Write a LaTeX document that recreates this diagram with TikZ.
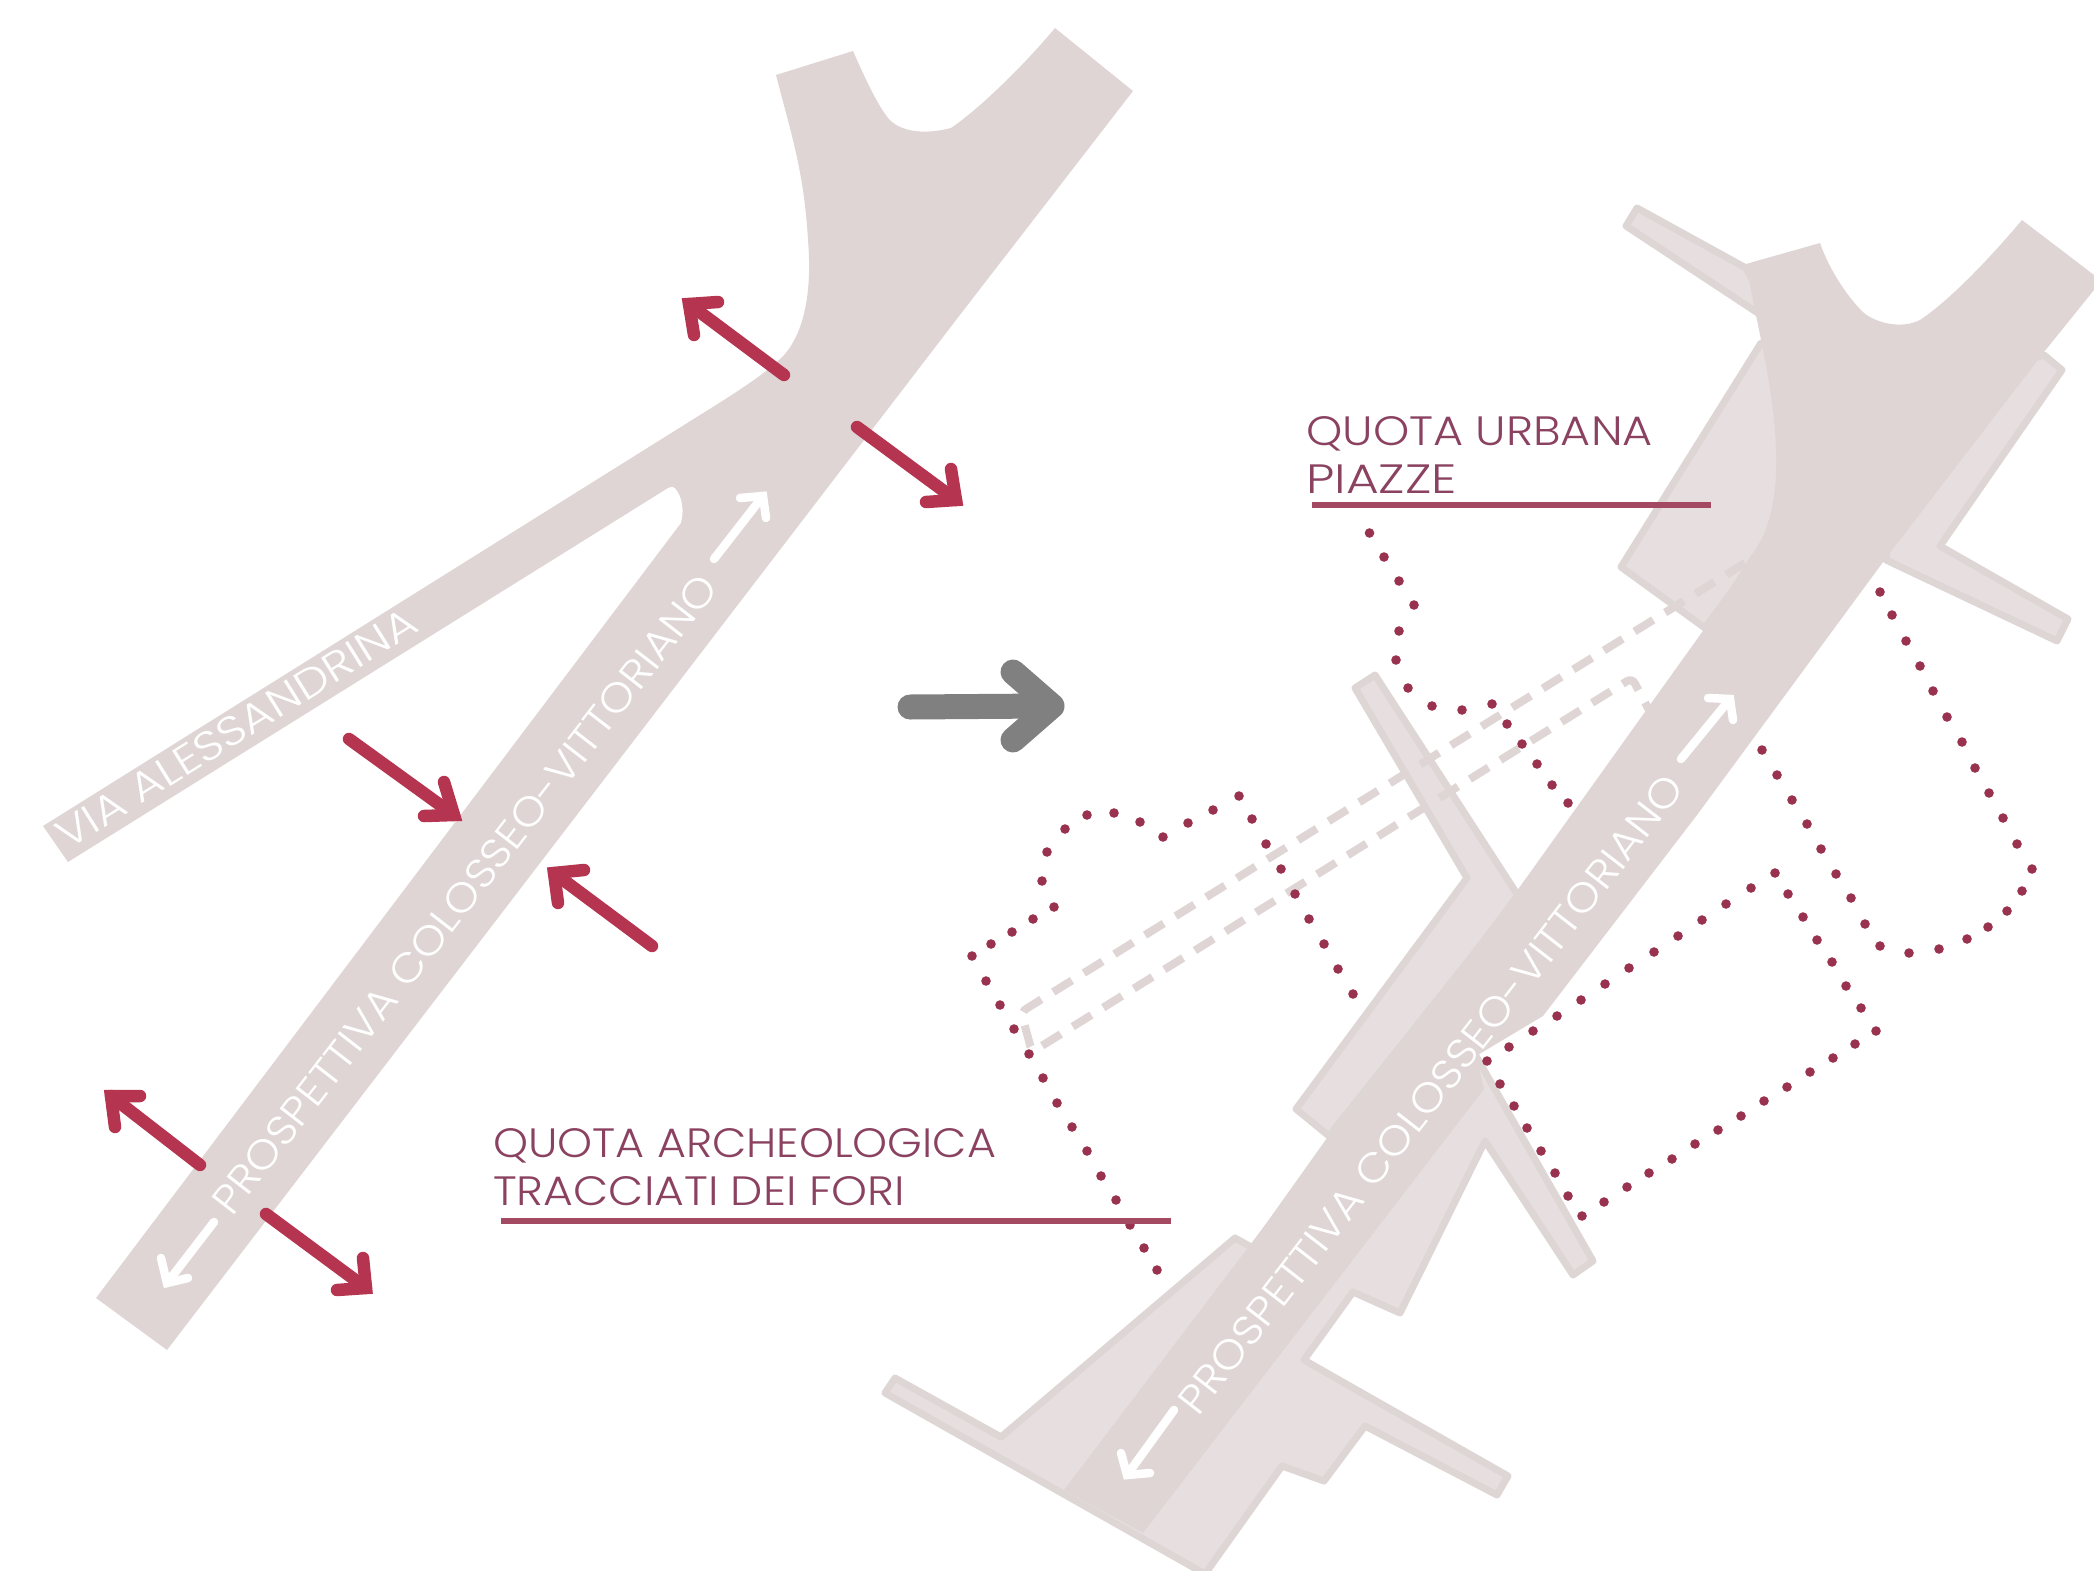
\documentclass[tikz,border=0pt]{standalone}
\usepackage{fontspec}
\newfontfamily\lbl[FakeStretch=1.085]{Poppins Light}
\newfontfamily\lblroad[FakeStretch=1.09]{Poppins Light}
\newfontfamily\lblvia[FakeStretch=1.165]{Poppins Light}
\definecolor{road}{HTML}{DFD5D5}
\definecolor{plaza}{HTML}{E7DFDF}
\definecolor{plazaedge}{HTML}{DED5D5}
\definecolor{redarrow}{HTML}{B5344F}
\definecolor{dotred}{HTML}{99324F}
\definecolor{title}{HTML}{8A4260}
\definecolor{rulered}{HTML}{A34A62}
\definecolor{greyarrow}{HTML}{808080}
\tikzset{
  roadfill/.style={fill=road,draw=none},
  plazafill/.style={fill=plaza,draw=plazaedge,line width=7pt,line join=round},
  redarr/.style={draw=redarrow,line width=12.5pt,line cap=round,line join=miter},
  whitearr/.style={draw=white,line width=8.5pt,line cap=round,line join=miter},
  greyarr/.style={draw=greyarrow,line width=25pt,line cap=round,line join=round},
  dashline/.style={draw=road,line width=8pt,dash pattern=on 22pt off 14pt},
  rulerline/.style={draw=rulered,line width=6pt},
  titletext/.style={text=title,anchor=base west,inner sep=0pt,font=\lbl\fontsize{41}{41}\selectfont},
  roadtext/.style={text=white,anchor=base west,inner sep=0pt,font=\lblroad\fontsize{41}{41}\selectfont},
  viatext/.style={text=white,anchor=base west,inner sep=0pt,font=\lblvia\fontsize{41}{41}\selectfont}
}
\newcommand{\arrowshape}[5]{%
  \draw[#1] #2 -- #3;
  \draw[#1] #4 -- #3 -- #5;
}
\begin{document}
\begin{tikzpicture}[x=1pt,y=-1pt]
\clip (0,0) rectangle (2094,1571);
% left road
\path[roadfill] (776,75) -- (853,51) .. controls (868,85) and (878,105) .. (888,118)
  .. controls (898,130) and (920,136) .. (951,128)
  .. controls (975,112) and (1020,70) .. (1055,28) -- (1133,91) -- (956,320) -- (167,1350) -- (96,1298)
  -- (681,523) .. controls (684,512) and (683,497) .. (675,488) .. controls (672,486) and (670,487) .. (668,488)
  -- (68,862) -- (43,826) -- (724,400) .. controls (750,383) and (770,370) .. (785,354)
  .. controls (805,330) and (812,290) .. (808,240) .. controls (804,170) and (790,130) .. (776,75) -- cycle;
% right: plazas
\path[plazafill] (1637,208) -- (1626,226) -- (1776,325) -- (1746,268) -- cycle;
\path[plazafill] (1761,343) -- (1621,567) -- (1705,628) -- (1800,500) -- (1800,343) -- cycle;
\path[plazafill] (2044,355) -- (2062,370) -- (1940,546) -- (2068,619) -- (2057,641) -- (1886,560) -- (1900,400) -- cycle;
\path[plazafill] (1375,675) -- (1355,688) -- (1467,878) -- (1296,1109) -- (1329,1136) -- (1519,897) -- cycle;
\path[plazafill] (885,1393) -- (895,1378) -- (1001,1437) -- (1235,1238) -- (1253,1248) -- (1332,1137) -- (1476,1056) -- (1593,1261) -- (1573,1275) -- (1485,1141) -- (1400,1313) -- (1353,1292) -- (1304,1360) -- (1508,1476) -- (1497,1495) -- (1365,1426) -- (1324,1481) -- (1282,1466) -- (1205,1574) -- cycle;
% right: main road
\path[roadfill] (1746,264) -- (1820,243) .. controls (1830,272) and (1850,300) .. (1864,313)
  .. controls (1875,322) and (1900,330) .. (1920,320)
  .. controls (1950,300) and (1990,258) .. (2022,220) -- (2094,275) -- (2094,290) -- (2044,352) -- (1886,558)
  -- (1697,815) -- (1543,1016) -- (1476,1056) -- (1484,1089) -- (1143,1533) -- (1064,1490) -- (1332,1137)
  -- (1519,888) -- (1705,628) -- (1750,557)
  .. controls (1768,535) and (1778,500) .. (1776,450) .. controls (1774,390) and (1760,340) .. (1746,264) -- cycle;
% dashed lines
\draw[dashline,rounded corners=6pt] (1745,563) -- (1021,1012) -- (1032,1052) -- (1632,678) -- (1650,712);
% dots
\foreach \p in {(1369.5,533),(1384,557),(1399,581),(1414,605),(1399,631),(1396,660),(1408,688),(1432,706),(1462,710),(1492,704),(1507,724),(1522,744),(1537,764),(1552,785),(1568,803),
 (1880,592),(1892,615),(1906,641),(1920,666),(1933,691),(1947,717),(1962,742),(1975,768),(1989,793),(2003,818),(2017,844),(2032,869),(2022,891),(2007,911),(1988,927),(1967,939),(1939,949),(1909,953),(1880,946),(1865,924),(1851,898),(1836,874),(1821,849),(1807,824),(1792,800),(1777,775),(1762,750),
 (1775,873),(1751,888),(1726,904),(1702,920),(1678,936),(1654,952),(1629,968),(1605,984),(1581,1000),(1557,1016),(1533,1031),(1509,1047),(1487,1061),(1500,1084),(1514,1106),(1527,1128),(1541,1151),(1555,1173),(1568,1196),(1582,1216),(1604,1202),(1627,1187),(1649,1173),(1672,1159),(1695,1144),(1718,1130),(1741,1116),(1764,1101),(1787,1087),(1810,1072),(1833,1058),(1855,1044),(1876,1031),(1861,1008),(1846,986),(1832,962),(1817,940),(1803,917),(1788,894),
 (1353,994),(1338,969),(1324,944),(1309,919),(1295,894),(1281,869),(1266,844),(1252,819),(1239,796),(1213,810),(1188,823),(1163,837),(1140,822),(1114,813),(1087,815),(1065,829),(1047,852),(1042,881),(1054,907),(1033,919),(1012,932),(991,944),(972,956),(986,981),(1000,1005),(1014,1029),(1029,1054),(1043,1078),(1057,1103),(1072,1127),(1087,1151),(1101,1176),(1116,1200),(1130,1225),(1144,1248),(1157,1270)}
  {\fill[dotred] \p circle (4.8pt);}
% rules
\draw[rulerline] (501,1221) -- (1171,1221);
\draw[rulerline] (1312,505) -- (1711,505);
% titles
\node[titletext] (t1) at (493,1157) {QUOTA ARCHEOLOGICA};
\node[titletext] (t2) at (493,1205) {\scalebox{1.027}[1]{TRACCIATI DEI FORI}};
\node[titletext] (t3) at (1306,445) {\scalebox{1.036}[1]{QUOTA URBANA}};
\node[titletext] (t4) at (1306,493) {\scalebox{1.13}[1]{PIAZZE}};
% road texts
\node[viatext,rotate=32] (r1) at (67,851) {VIA ALESSANDRINA};
\node[roadtext,rotate=52.2] (r2) at (232,1218) {PROSPETTIVA COLOSSEO-VITTORIANO};
\node[roadtext,rotate=52.2] (r3) at (1198,1418) {PROSPETTIVA COLOSSEO-VITTORIANO};
% red arrows
\arrowshape{redarr}{(784,375)}{(689,304)}{(718,302)}{(694,335)}
\arrowshape{redarr}{(857,427)}{(956,500)}{(926,502)}{(951,469)}
\arrowshape{redarr}{(349,739)}{(454,815)}{(444,782)}{(424,816)}
\arrowshape{redarr}{(652,946)}{(554,873)}{(584,870)}{(558,903)}
\arrowshape{redarr}{(200,1165)}{(111,1096)}{(140,1096)}{(115,1127)}
\arrowshape{redarr}{(266,1214)}{(366,1288)}{(337,1290)}{(363,1258)}
% white arrows
\arrowshape{whitearr}{(714,559)}{(763,496)}{(740,498)}{(766,518)}
\arrowshape{whitearr}{(214,1222)}{(167,1283)}{(161,1258)}{(188,1278)}
\arrowshape{whitearr}{(1681,759)}{(1730,699)}{(1708,698)}{(1733,720)}
\arrowshape{whitearr}{(1174,1410)}{(1127,1475)}{(1121,1453)}{(1150,1473)}
% grey arrow
\draw[greyarr] (910,707) -- (1045,706);
\draw[greyarr] (1013,672) -- (1052,706) -- (1013,740);
\end{tikzpicture}
\end{document}
